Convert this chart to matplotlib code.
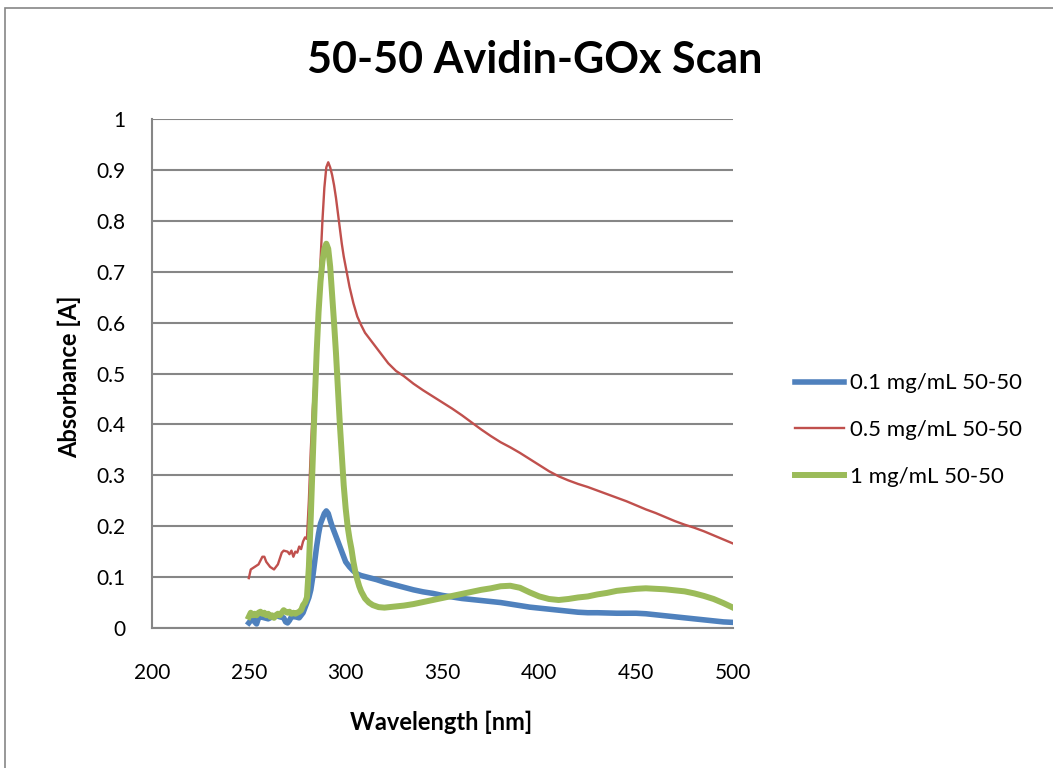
import numpy as np
import matplotlib.pyplot as plt
from matplotlib.patches import Rectangle

plt.rcParams['font.family'] = ['Lato', 'DejaVu Sans']

# 0.1 mg/mL 50-50
wl_01 = [250, 251, 252, 253, 254, 255, 256, 258, 260, 262, 264, 266, 268, 269, 270, 271, 272, 274,
         276, 277, 278, 279, 280, 281, 282, 283, 284, 285, 286, 287, 288, 289, 290, 291, 292, 293,
         294, 295, 296, 297, 298, 299, 300, 301, 302, 304, 306, 308, 310, 313, 316, 320, 325, 330,
         335, 340, 345, 350, 355, 360, 365, 370, 375, 380, 385, 390, 395, 400, 405, 410, 415, 420,
         425, 430, 440, 450, 455, 460, 465, 470, 475, 480, 485, 490, 495, 500]
abs_01 = [0.010, 0.015, 0.020, 0.012, 0.008, 0.020, 0.022, 0.020, 0.018, 0.022, 0.025, 0.022, 0.020,
          0.012, 0.010, 0.015, 0.022, 0.022, 0.020, 0.025, 0.030, 0.040, 0.050, 0.060, 0.075, 0.100,
          0.130, 0.160, 0.185, 0.205, 0.215, 0.225, 0.230, 0.225, 0.212, 0.200, 0.190, 0.180, 0.170,
          0.160, 0.150, 0.140, 0.130, 0.125, 0.120, 0.112, 0.106, 0.103, 0.101, 0.098, 0.095, 0.090,
          0.085, 0.080, 0.075, 0.071, 0.068, 0.064, 0.061, 0.058, 0.056, 0.054, 0.052, 0.050, 0.047,
          0.044, 0.041, 0.039, 0.037, 0.035, 0.033, 0.031, 0.030, 0.030, 0.029, 0.029, 0.028, 0.026,
          0.024, 0.022, 0.020, 0.018, 0.016, 0.014, 0.012, 0.011]

# 0.5 mg/mL 50-50
wl_05 = [250, 251, 253, 255, 257, 258, 259, 261, 263, 265, 267, 268, 270, 271, 272, 273, 274, 275,
         276, 277, 278, 279, 280, 281, 282, 283, 284, 285, 286, 287, 288, 289, 290, 291, 292, 293,
         294, 295, 296, 297, 298, 299, 300, 302, 304, 306, 308, 310, 312, 315, 318, 322, 326, 330,
         335, 340, 345, 350, 355, 360, 365, 370, 375, 380, 385, 390, 395, 400, 405, 410, 415, 420,
         425, 430, 435, 440, 445, 450, 455, 460, 465, 470, 475, 480, 485, 490, 495, 500]
abs_05 = [0.098, 0.115, 0.120, 0.125, 0.140, 0.140, 0.130, 0.120, 0.115, 0.125, 0.148, 0.152, 0.150,
          0.145, 0.152, 0.140, 0.150, 0.148, 0.160, 0.155, 0.170, 0.178, 0.175, 0.250, 0.350, 0.430,
          0.490, 0.540, 0.620, 0.720, 0.800, 0.865, 0.905, 0.915, 0.905, 0.890, 0.870, 0.845, 0.815,
          0.785, 0.755, 0.730, 0.710, 0.670, 0.638, 0.612, 0.595, 0.580, 0.570, 0.555, 0.540, 0.520,
          0.505, 0.495, 0.480, 0.467, 0.455, 0.443, 0.431, 0.418, 0.404, 0.390, 0.377, 0.365, 0.355,
          0.344, 0.332, 0.320, 0.308, 0.298, 0.290, 0.283, 0.277, 0.270, 0.263, 0.256, 0.249, 0.241,
          0.233, 0.226, 0.218, 0.210, 0.203, 0.197, 0.190, 0.182, 0.174, 0.166]

# 1 mg/mL 50-50
wl_1 = [250, 251, 252, 253, 254, 255, 256, 257, 258, 259, 260, 261, 262, 263, 264, 265, 266, 267,
        268, 269, 270, 271, 272, 273, 274, 275, 276, 277, 278, 279, 280, 281, 282, 283, 284, 285,
        286, 287, 288, 289, 290, 291, 292, 293, 294, 295, 296, 297, 298, 299, 300, 301, 302, 303,
        304, 305, 306, 307, 308, 309, 310, 312, 314, 317, 320, 325, 330, 335, 340, 345, 350, 355,
        360, 365, 370, 375, 380, 385, 390, 395, 400, 405, 410, 415, 420, 425, 430, 435, 440, 445,
        450, 455, 460, 465, 470, 475, 480, 485, 490, 495, 500]
abs_1 = [0.022, 0.030, 0.025, 0.028, 0.025, 0.030, 0.032, 0.028, 0.030, 0.025, 0.028, 0.022, 0.025,
         0.020, 0.025, 0.028, 0.025, 0.030, 0.035, 0.032, 0.030, 0.032, 0.028, 0.030, 0.028, 0.030,
         0.032, 0.035, 0.045, 0.050, 0.060, 0.120, 0.220, 0.330, 0.440, 0.540, 0.620, 0.680, 0.720,
         0.745, 0.755, 0.745, 0.710, 0.655, 0.600, 0.540, 0.470, 0.400, 0.340, 0.280, 0.235, 0.200,
         0.175, 0.155, 0.130, 0.110, 0.095, 0.082, 0.072, 0.065, 0.058, 0.050, 0.045, 0.041, 0.040,
         0.042, 0.044, 0.047, 0.051, 0.055, 0.059, 0.063, 0.067, 0.071, 0.075, 0.078, 0.082, 0.083,
         0.079, 0.070, 0.062, 0.057, 0.055, 0.057, 0.060, 0.062, 0.066, 0.069, 0.073, 0.075, 0.077,
         0.078, 0.077, 0.076, 0.074, 0.072, 0.068, 0.063, 0.057, 0.049, 0.040]

fig = plt.figure(figsize=(10.53, 7.68), dpi=100)
ax = fig.add_axes([152 / 1053, 1 - 628 / 768, (733 - 152) / 1053, (628 - 119) / 768])

# outer chart border (only left/top edges fall inside the picture)
fig.patches.append(Rectangle((5 / 1053, -0.05), 1.1, 1 - 8 / 768 + 0.05, transform=fig.transFigure,
                             fill=False, edgecolor='#868686', linewidth=1.2))

ax.plot(wl_01, abs_01, color='#4F81BD', linewidth=4.0, label='0.1 mg/mL 50-50')
ax.plot(wl_05, abs_05, color='#C0504D', linewidth=1.7, label='0.5 mg/mL 50-50')
ax.plot(wl_1, abs_1, color='#9BBB59', linewidth=4.3, label='1 mg/mL 50-50')

ax.set_xlim(200, 500)
ax.set_ylim(0, 1)
ax.set_xticks(np.arange(200, 501, 50))
ax.set_yticks(np.arange(0, 1.01, 0.1))
ax.set_yticklabels(['0', '0.1', '0.2', '0.3', '0.4', '0.5', '0.6', '0.7', '0.8', '0.9', '1'])
ax.tick_params(length=0, labelsize=15, colors='black')
ax.tick_params(axis='y', pad=19)
ax.tick_params(axis='x', pad=25)
ax.grid(axis='y', color='#868686', linewidth=1.5)
ax.set_axisbelow(True)
for side in ['top', 'right']:
    ax.spines[side].set_visible(False)
for side in ['left', 'bottom']:
    ax.spines[side].set_color('#868686')
    ax.spines[side].set_linewidth(1.5)

ax.set_xlabel('Wavelength [nm]', fontsize=17, fontweight='bold')
ax.set_ylabel('Absorbance [A]', fontsize=17, fontweight='bold')
ax.xaxis.set_label_coords(0.498, -0.163)
ax.yaxis.set_label_coords(-0.122, 0.493)
fig.text(535 / 1053, 1 - 60 / 768, '50-50 Avidin-GOx Scan', fontsize=31, fontweight='bold',
         ha='center', va='center')

ax.legend(loc='center left', bbox_to_anchor=(1.088, 0.389), frameon=False, fontsize=16,
          borderpad=0, handlelength=2.2, handletextpad=0.25, labelspacing=1.2)

fig.savefig('out.png', dpi=100)
